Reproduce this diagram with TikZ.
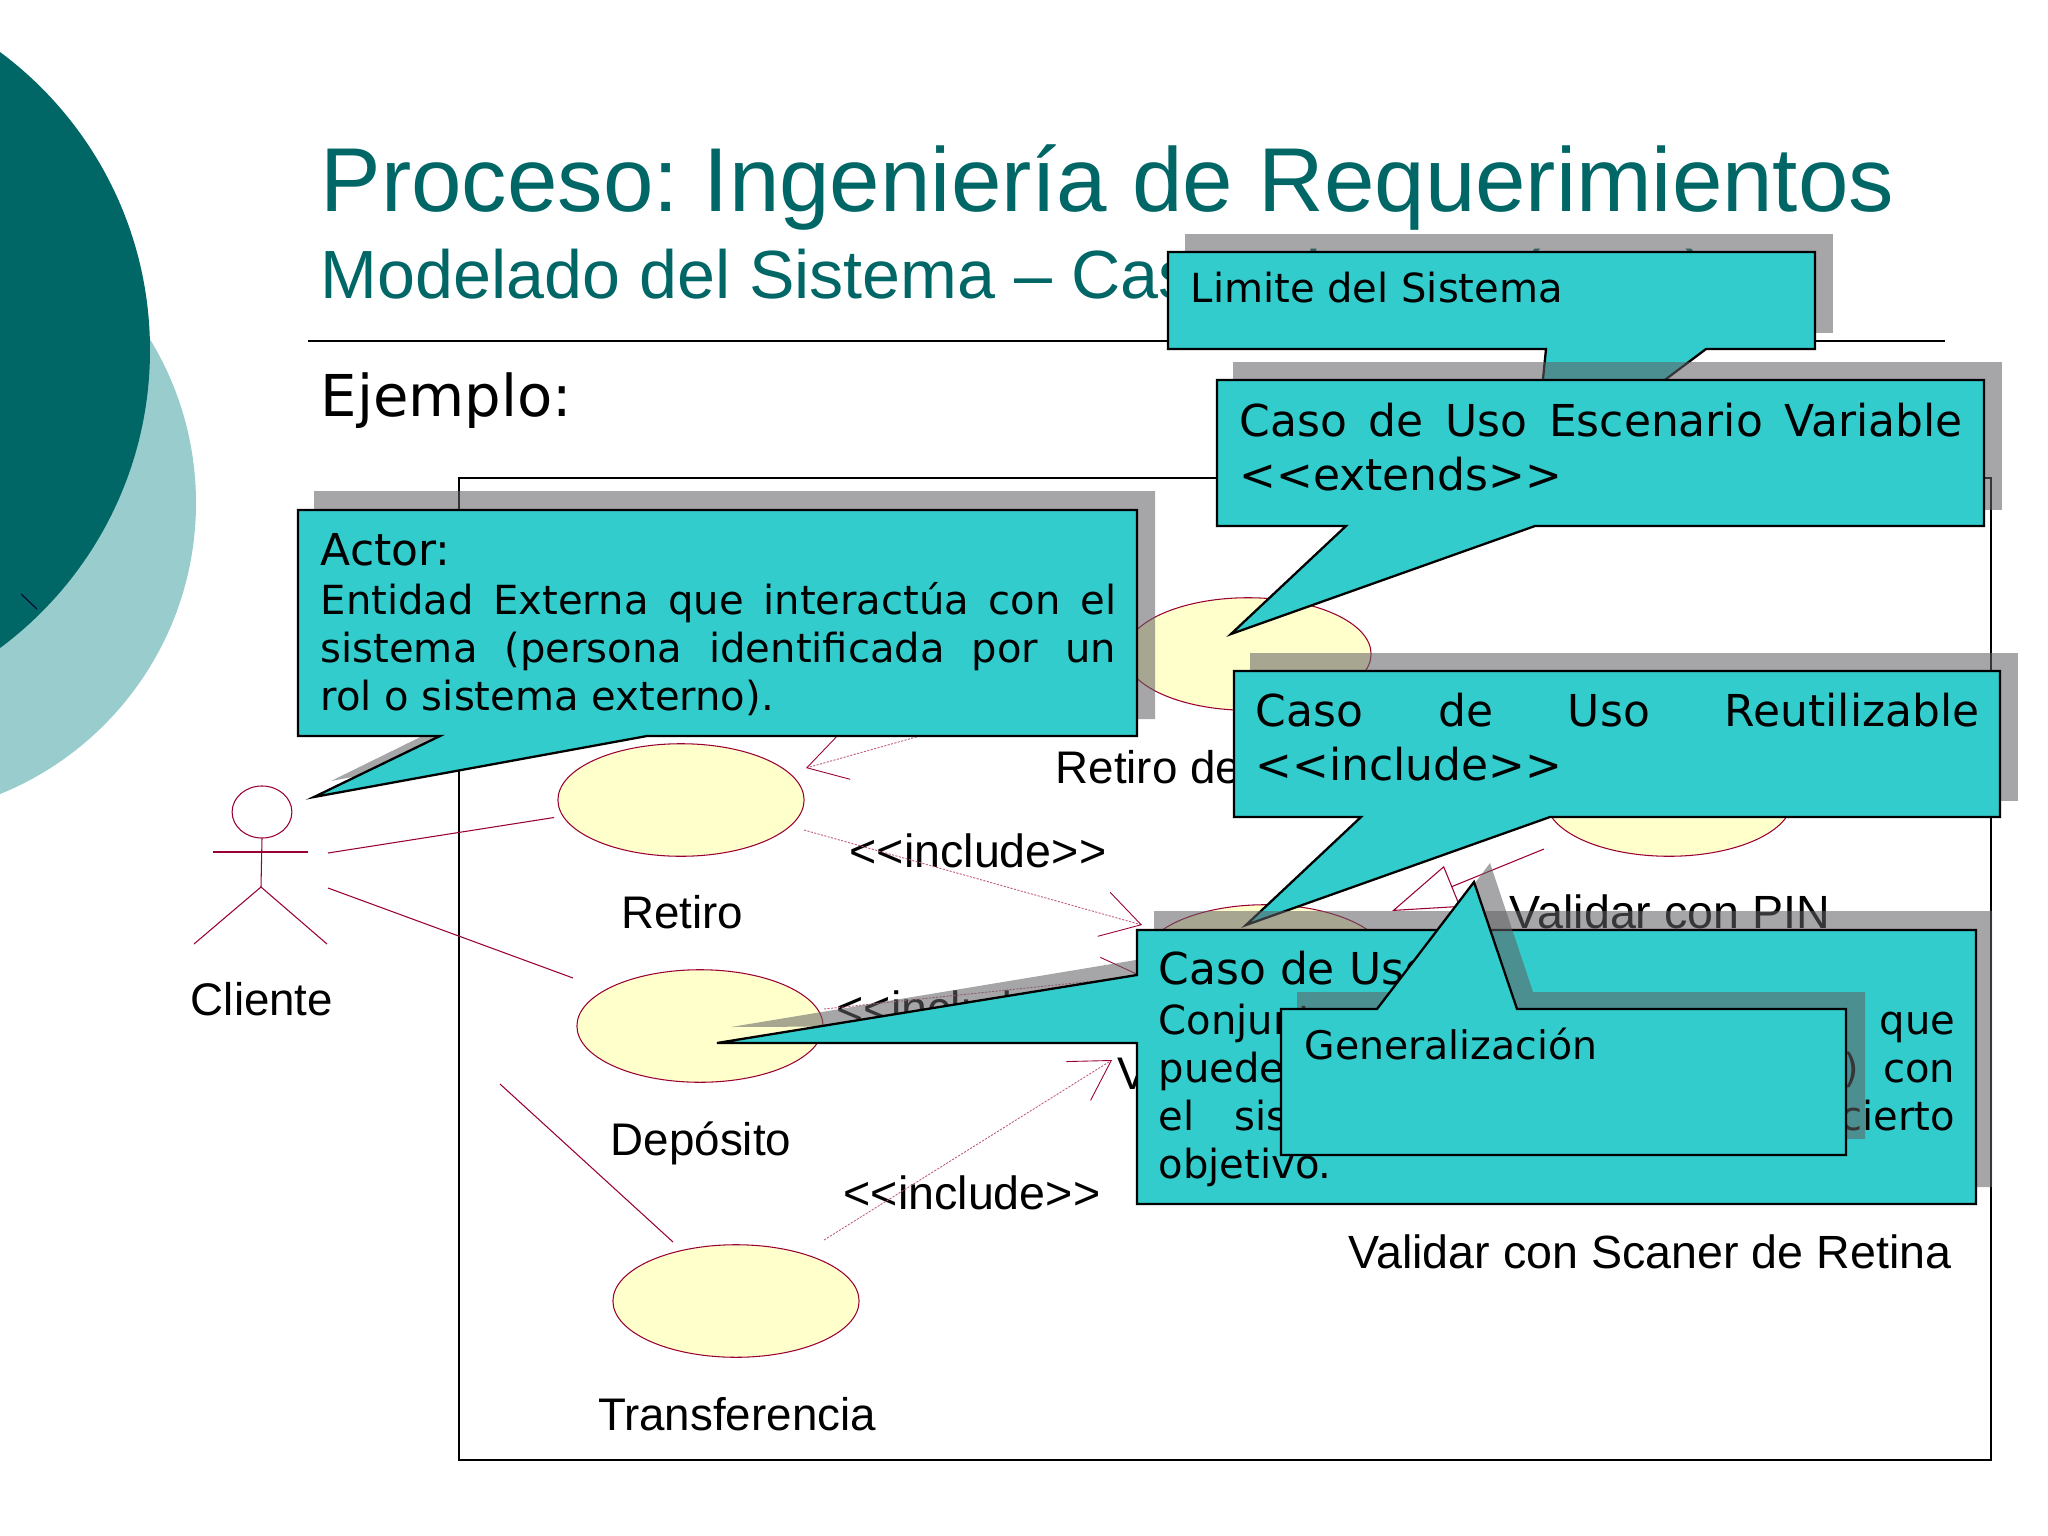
\documentclass[tikz,border=0pt]{standalone}
\usepackage{fontspec}
\setmainfont{Liberation Sans}
\newfontfamily\bodyfont{DejaVu Sans}
\usetikzlibrary{calc,shapes.geometric,arrows.meta}
\definecolor{tealdark}{HTML}{006666}
\definecolor{teallight}{HTML}{99CCCC}
\definecolor{calloutfill}{HTML}{33CCCC}
\definecolor{shadowgray}{HTML}{616164}
\definecolor{umlred}{HTML}{990033}
\definecolor{usefill}{HTML}{FFFFCC}
\newcommand{\jline}[2]{\makebox[#1][s]{#2}}
\newcommand{\incl}{<{}<include>{}>}
\frenchspacing
\tikzset{
  usecase/.style={draw=umlred,fill=usefill,ellipse,line width=0.3pt,minimum width=70pt,minimum height=32pt,inner sep=0pt},
  umlline/.style={draw=umlred,line width=0.3pt},
  umldep/.style={draw=umlred!65,line width=0.25pt,dash pattern=on 0.6pt off 0.4pt,-{Straight Barb[length=11pt,width=13pt,color=umlred]}},
  umlgen/.style={draw=umlred,line width=0.3pt,-{Triangle[open,length=18.5pt,width=12.5pt]}},
  lbl/.style={anchor=base,inner sep=0pt,font=\fontsize{13}{15}\selectfont},
  lblwide/.style={anchor=base,inner sep=0pt,font=\fontsize{13.25}{15}\selectfont},
  calloutbox/.style={fill=calloutfill,draw=black,line width=0.65pt,line join=miter},
  calloutshadow/.style={fill=shadowgray,fill opacity=0.56},
  bigtxt/.style={anchor=north west,inner sep=0pt,align=left,font=\bodyfont\fontsize{12.5}{15.6}\selectfont},
  smalltxt/.style={anchor=north west,inner sep=0pt,align=left,font=\bodyfont\fontsize{11.4}{13.66}\selectfont},
}
\begin{document}
\begin{tikzpicture}[x=0.01cm,y=-0.01cm]
  \path[use as bounding box,clip] (0,0) rectangle (2048,1536);
  % background
  \fill[teallight] (-118,503) circle (314);
  \fill[tealdark] (-221,350) circle (371);
  \draw[color=black!80!blue,line width=0.3pt] (21,594) -- (37,609);
  % titles
  \node[anchor=base west,inner sep=0pt,text=tealdark,font=\fontsize{25.8}{30}\selectfont] (Titulo) at (320,211) {Proceso: Ingeniería de Requerimientos};
  \node[anchor=base west,inner sep=0pt,text=tealdark,font=\fontsize{19.4}{24}\selectfont] (Subtitulo) at (320,298) {Modelado del Sistema – Casos de Uso (UML)};
  \draw[line width=0.65pt] (308,341) -- (1945,341);
  \node[anchor=base west,inner sep=0pt,font=\bodyfont\fontsize{16.4}{20}\selectfont] (Ejemplo) at (320,416) {Ejemplo:};
  % system boundary
  \draw[line width=0.65pt] (459,478) rectangle (1991,1460);
  % actor
  \node[draw=umlred,ellipse,line width=0.3pt,minimum width=17pt,minimum height=14.8pt,inner sep=0pt] (Cliente) at (262,812) {};
  \coordinate (Cadera) at (261,887);
  \draw[umlline] (Cliente.south) -- (Cadera);
  \draw[umlline] (213,852) -- (308,852);
  \draw[umlline] (194,944) -- (Cadera) -- (327,944);
  \node[lbl] (ClienteTxt) at (262,1015) {Cliente};
  % use cases
  \node[usecase] (Retiro) at (681,800) {};
  \node[usecase] (RetiroDe) at (1248,654) {};
  \node[usecase] (Deposito) at (700,1026) {};
  \node[usecase] (Transferencia) at (736,1301) {};
  \node[usecase] (ValidarPin) at (1669,800) {};
  \node[usecase] (Validar) at (1265,961) {};
  \node[lbl] (RetiroTxt) at (682,928) {Retiro};
  \node[lbl] (DepositoTxt) at (701,1155) {Depósito};
  \node[lbl] (TransferenciaTxt) at (737,1430) {Transferencia};
  \node[lblwide] (ValidarPinTxt) at (1670,928) {Validar con PIN};
  \node[lblwide] (RetinaTxt) at (1650,1268) {Validar con Scaner de Retina};
  \node[lbl,anchor=base west] (RetiroDeTxt) at (1055,783) {Retiro de};
  \node[lbl,anchor=base west] (ValidarTxt) at (1117,1089) {Validar};
  \node[lblwide] (IncA) at (978,867) {\incl};
  \node[lblwide] (IncB) at (965,1024) {\incl};
  \node[lblwide] (IncC) at (972,1209) {\incl};
  % connectors
  \draw[umlline] ($(Cliente)+(66,41)$) -- ($(Retiro)+(-127,17.5)$);
  \draw[umlline] ($(Cliente)+(66,76)$) -- ($(Deposito)+(-127,-48)$);
  \draw[umlline] ($(Cliente)+(238,272)$) -- ($(Transferencia)+(-63,-59)$);
  \draw[umldep] ($(Retiro)+(123,30)$) -- ($(Validar)+(-123,-36)$);
  \draw[umldep] ($(Deposito)+(124,-17)$) -- ($(Validar)+(-123,15)$);
  \draw[umldep] ($(Transferencia)+(88,-61)$) -- ($(Validar)+(-153,99)$);
  \draw[umldep] ($(RetiroDe)+(-118,23)$) -- ($(Retiro)+(125,-32)$);
  \draw[umlgen] ($(ValidarPin)+(-125,49)$) -- ($(Validar)+(127,-50)$);
  % callout actor
  \fill[calloutshadow] (314,491) -- (1155,491) -- (1155,719) -- (664,719) -- (331,781) -- (457,719) -- (314,719) -- cycle;
  \filldraw[calloutbox] (298,510) -- (1137,510) -- (1137,736) -- (647,736) -- (314,797) -- (440,736) -- (298,736) -- cycle;
  \node[bigtxt,anchor=base west] (ActorTit) at (320,565) {Actor:};
  \node[smalltxt] (ActorTxt) at (320,582) {\jline{226.2pt}{Entidad Externa que interactúa con el}\\
    \jline{226.2pt}{sistema (persona identificada por un}\\rol o sistema externo).};
  % callout limite
  \fill[calloutshadow] (1185,234) rectangle (1833,333);
  \filldraw[calloutbox] (1168,252) -- (1815,252) -- (1815,349) -- (1706,349) -- (1533,479) -- (1546,349) -- (1168,349) -- cycle;
  \node[smalltxt,anchor=base west] (LimiteTxt) at (1190,302) {Limite del Sistema};
  % callout extends
  \fill[calloutshadow] (1233,362) rectangle (2002,510);
  \filldraw[calloutbox] (1217,380) -- (1984,380) -- (1984,526) -- (1535,526) -- (1231,634) -- (1346,526) -- (1217,526) -- cycle;
  \node[bigtxt] (ExtendsTxt) at (1239,402) {\jline{205.6pt}{Caso de Uso Escenario Variable}\\<<extends>>};
  % callout include
  \fill[calloutshadow] (1250,653) rectangle (2018,801);
  \filldraw[calloutbox] (1234,671) -- (2000,671) -- (2000,817) -- (1550,817) -- (1246,925) -- (1361,817) -- (1234,817) -- cycle;
  \node[bigtxt] (IncludeTxt) at (1255,692) {\jline{205.8pt}{Caso de Uso Reutilizable}\\<<include>>};
  % callout caso de uso
  \fill[calloutshadow] (1154,911) -- (1992,911) -- (1992,1187) -- (1154,1187) -- (1154,1025) -- (731,1027) -- (1154,957) -- cycle;
  \filldraw[calloutbox] (1137,930) -- (1976,930) -- (1976,1204) -- (1137,1204) -- (1137,1043) -- (717,1043) -- (1137,975) -- cycle;
  \node[bigtxt,anchor=base west] (CasoTit) at (1158,984) {Caso de Uso};
  \node[smalltxt] (CasoTxt) at (1158,1003) {\jline{226.5pt}{Conjunto \hfill s\hspace{0.8em}que}\\
    \jline{226.5pt}{puede \hfill )\hspace{0.6em}con}\\
    \jline{226.5pt}{el\hspace{1em}sis \hfill cierto}\\objetivo.};
  % callout generalizacion
  \fill[calloutshadow] (1297,992) -- (1393,992) -- (1490,863) -- (1533,992) -- (1865,992) -- (1865,1139) -- (1297,1139) -- cycle;
  \filldraw[calloutbox] (1281,1009) -- (1377,1009) -- (1474,882) -- (1517,1009) -- (1846,1009) -- (1846,1155) -- (1281,1155) -- cycle;
  \node[smalltxt,anchor=base west,font=\bodyfont\fontsize{11.2}{13.66}\selectfont] (GenTxt) at (1304,1059) {Generalización};
\end{tikzpicture}
\end{document}
